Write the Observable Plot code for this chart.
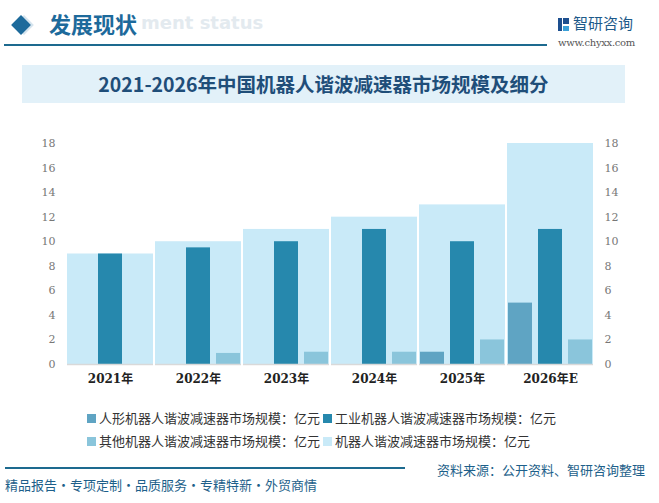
<!DOCTYPE html>
<html><head><meta charset="utf-8">
<script src="https://cdn.jsdelivr.net/npm/d3@7"></script>
<script src="https://cdn.jsdelivr.net/npm/@observablehq/plot@0.6"></script>
<style>
body{margin:0;width:659px;height:503px;background:#fff;position:relative;overflow:hidden;font-family:"Noto Sans CJK SC","Noto Sans",sans-serif;}
.abs{position:absolute;white-space:nowrap;}
#chart{position:absolute;left:0;top:120px;}
.lg{display:inline-block;width:9px;height:9px;margin-right:3px;vertical-align:0px;}
</style></head>
<body>
<div class="abs" style="left:141px;top:12px;font:bold 18px 'DejaVu Sans',sans-serif;color:#e3eaef;">ment status</div>
<div class="abs" style="left:17px;top:18px;width:14px;height:14px;background:#d5e4ee;transform:rotate(45deg);"></div>
<div class="abs" style="left:14px;top:18px;width:14px;height:14px;background:#1d6a9b;transform:rotate(45deg);"></div>
<div class="abs" style="left:49px;top:7px;font-weight:bold;font-size:22px;color:#1d6a9b;">发展现状</div>
<div class="abs" style="left:4px;top:44px;width:543px;height:2px;background:#1d6a8f;"></div>
<div class="abs" style="left:558px;top:18px;width:11px;height:13px;">
 <div style="position:absolute;left:0;top:0;width:4px;height:13px;background:#1d4f8f;"></div>
 <div style="position:absolute;left:5px;top:0;width:6px;height:6px;background:#1d4f8f;"></div>
 <div style="position:absolute;left:5px;top:8px;width:6px;height:5px;background:#3aa0d8;"></div>
</div>
<div class="abs" style="left:573px;top:12px;font-size:15px;color:#1d5a8a;">智研咨询</div>
<div class="abs" style="left:558px;top:37px;font-size:10px;color:#555;font-family:'DejaVu Serif',serif;letter-spacing:-0.3px;">www.chyxx.com</div>
<div class="abs" style="left:22px;top:65px;width:603px;height:38px;background:#e2f1f9;"></div>
<div class="abs" style="left:22px;top:65px;width:603px;height:38px;line-height:38px;text-align:center;font-weight:bold;font-size:19.5px;color:#1f4e79;">2021-2026年中国机器人谐波减速器市场规模及细分</div>
<div id="chart"></div>
<div id="legend" class="abs" style="left:87px;top:406px;font-size:13px;color:#333;line-height:23px;"></div>
<div class="abs" style="left:5px;top:467px;width:400px;height:1.5px;background:#1d6a8f;"></div>
<div class="abs" style="left:437px;top:460px;font-size:13px;color:#1d5f8a;">资料来源：公开资料、智研咨询整理</div>
<div class="abs" style="left:5px;top:475px;font-size:13px;color:#1d5f8a;">精品报告・专项定制・品质服务・专精特新・外贸商情</div>
<script>
const years = ["2021年","2022年","2023年","2024年","2025年","2026年E"];
const totalSize = [9, 10, 11, 12, 13, 18];
const humanoidSize = [0, 0, 0, 0, 1, 5];
const industrialSize = [9, 9.5, 10, 11, 10, 11];
const otherSize = [0, 0.9, 1, 1, 2, 2];
const seriesNames = ["人形机器人谐波减速器市场规模：亿元","工业机器人谐波减速器市场规模：亿元","其他机器人谐波减速器市场规模：亿元","机器人谐波减速器市场规模：亿元"];
const seriesColors = ["#5fa4c3","#2688ad","#8ac5db","#c9eaf8"];
const yTicks = [0,2,4,6,8,10,12,14,16,18];

const totals = years.map((y,i)=>({year:y, value:totalSize[i]}));
const subs = [];
years.forEach((y,i)=>{
  subs.push({year:y, series:seriesNames[0], value:humanoidSize[i]});
  subs.push({year:y, series:seriesNames[1], value:industrialSize[i]});
  subs.push({year:y, series:seriesNames[2], value:otherSize[i]});
});

const chart = Plot.plot({
  width:659, height:270,
  marginLeft:65, marginRight:64, marginTop:23, marginBottom:26,
  style:{fontFamily:"'DejaVu Serif','Noto Sans CJK SC',serif", fontSize:"11px", color:"#777", background:"transparent"},
  fx:{domain:years, paddingInner:0.02, paddingOuter:0, label:null},
  x:{domain:seriesNames.slice(0,3), paddingInner:0.2, paddingOuter:0, axis:null},
  y:{domain:[0,18], axis:null},
  color:{domain:seriesNames, range:seriesColors},
  marks:[
    Plot.barY(totals, {fx:"year", y:"value", fill:seriesColors[3]}),
    Plot.barY(subs, {fx:"year", x:"series", y:"value", fill:"series"}),
    Plot.ruleY([0], {stroke:"#d9d9d9", strokeWidth:1.5, facetAnchor:null}),
    Plot.axisY(yTicks, {anchor:"left", tickSize:0, tickPadding:12, tickFormat:d=>d, fill:"#777", label:null}),
    Plot.axisY(yTicks, {anchor:"right", tickSize:0, tickPadding:11, tickFormat:d=>d, fill:"#777", label:null}),
    Plot.axisFx({anchor:"bottom", tickSize:0, tickPadding:10, fontWeight:"bold", fontSize:12, fill:"#222", label:null})
  ]
});
document.getElementById("chart").appendChild(chart);

const lg = document.getElementById("legend");
const rows = [[0,1],[2,3]];
lg.innerHTML = rows.map(r=>r.map(i=>`<span style="margin-right:3px"><span class="lg" style="background:${seriesColors[i]}"></span>${seriesNames[i]}</span>`).join("")).join("<br>");
</script>
</body></html>
